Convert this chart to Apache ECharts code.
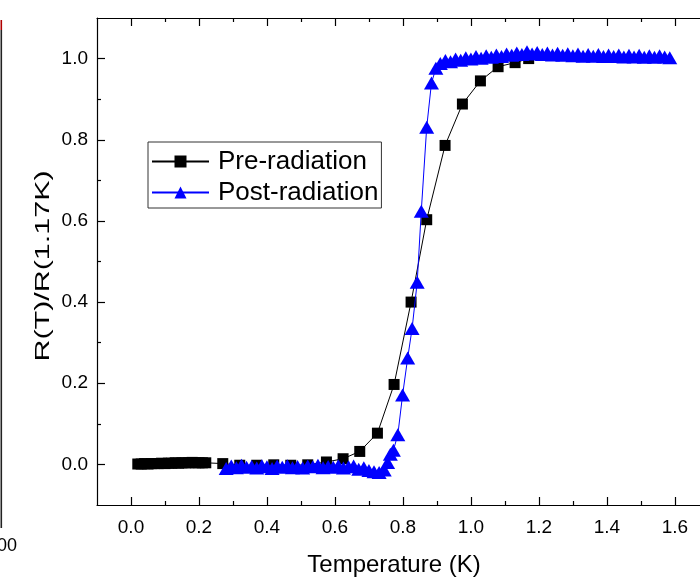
<!DOCTYPE html>
<html>
<head>
<meta charset="utf-8">
<script src="https://cdn.jsdelivr.net/npm/echarts@6/dist/echarts.min.js"></script>
<style>html,body{margin:0;padding:0;background:#fff;}#chart{width:700px;height:582px;}</style>
</head>
<body>
<div id="chart"></div>
<script>
// ---- data ----
const preT = [0.02,0.03,0.04,0.05,0.06,0.07,0.08,0.09,0.10,0.11,0.12,0.13,0.14,0.15,0.16,0.17,0.18,0.19,0.20,0.21,0.22,
  0.27,0.32,0.37,0.42,0.47,0.52,0.575,0.624,0.673,0.725,0.774,0.824,0.87,0.924,0.975,1.028,1.08,1.13,1.17];
const preR = [0.001,0.001,0.002,0.001,0.002,0.002,0.002,0.003,0.002,0.003,0.003,0.004,0.003,0.004,0.004,0.004,0.005,0.004,0.004,0.004,0.004,
  0.002,-0.002,-0.002,-0.001,-0.002,-0.001,0.006,0.014,0.032,0.077,0.197,0.400,0.603,0.786,0.888,0.945,0.980,0.990,1.000];

const postT = [0.28,0.295,0.31,0.325,0.34,0.355,0.37,0.385,0.40,0.415,0.43,0.445,0.46,0.475,0.49,0.505,0.52,0.535,0.55,0.565,
  0.58,0.595,0.61,0.625,0.64,0.655,0.67,0.685,0.70,0.715,0.73,0.745,
  0.755,0.763,0.772,0.785,0.799,0.814,0.827,0.842,0.854,0.870,0.884,0.897,
  0.91,0.925,0.94,0.955,0.97,0.985,1.0,1.015,1.03,1.045,1.06,1.075,1.09,1.105,1.12,1.135,1.15,1.165,1.18,1.195,
  1.21,1.225,1.24,1.255,1.27,1.285,1.30,1.315,1.33,1.345,1.36,1.375,1.39,1.405,1.42,1.435,1.45,1.465,1.48,1.495,
  1.51,1.525,1.54,1.555,1.57,1.585];
const postR = [-0.010,-0.004,-0.008,-0.002,-0.007,-0.005,-0.009,-0.003,-0.006,-0.010,-0.004,-0.007,-0.003,-0.008,-0.005,-0.009,-0.004,-0.006,-0.002,-0.008,
  -0.005,-0.007,-0.003,-0.009,-0.006,-0.004,-0.012,-0.008,-0.015,-0.018,-0.020,-0.014,
  0.005,0.025,0.035,0.073,0.171,0.262,0.335,0.449,0.624,0.831,0.940,0.976,
  0.988,0.995,0.992,0.999,0.996,1.002,0.999,1.005,1.001,1.007,1.003,1.009,1.005,1.011,1.008,1.014,1.010,1.017,1.011,1.015,
  1.010,1.014,1.009,1.013,1.008,1.012,1.007,1.011,1.006,1.010,1.006,1.010,1.005,1.009,1.005,1.009,1.004,1.008,1.004,1.008,
  1.003,1.007,1.003,1.007,1.004,1.002];

const seriesNames = ['Pre-radiation', 'Post-radiation'];
const xTitle = 'Temperature (K)';
const yTitle = 'R(T)/R(1.17K)';
const xMajorTicks = [0.0,0.2,0.4,0.6,0.8,1.0,1.2,1.4,1.6];
const xMinorTicks = [0.1,0.3,0.5,0.7,0.9,1.1,1.3,1.5];
const yMajorTicks = [0.0,0.2,0.4,0.6,0.8,1.0];
const yMinorTicks = [0.1,0.3,0.5,0.7,0.9];

// ---- chart ----
const FONT = "'Liberation Sans', Arial, sans-serif";
const chart = echarts.init(document.getElementById('chart'), null, {renderer: 'canvas'});
const lineStyleAxis = {color: '#000', width: 1.2};

function xAx(pos, ticks, len, showLine, showLabel, extra) {
  return Object.assign({
    type: 'value', position: pos, min: -0.1, max: 1.674,
    axisLine: {show: showLine, onZero: false, lineStyle: lineStyleAxis},
    axisTick: {show: true, inside: true, length: len, customValues: ticks, lineStyle: {color: '#000', width: 1.2}},
    axisLabel: {show: showLabel, customValues: ticks, margin: 13, fontSize: 19, fontFamily: FONT, color: '#000',
      formatter: v => Number(v).toFixed(1)},
    splitLine: {show: false}
  }, extra || {});
}
function yAx(ticks, len, showLine, showLabel) {
  return {
    type: 'value', position: 'left', min: -0.1, max: 1.1,
    axisLine: {show: showLine, onZero: false, lineStyle: lineStyleAxis},
    axisTick: {show: true, inside: true, length: len, customValues: ticks, lineStyle: {color: '#000', width: 1.2}},
    axisLabel: {show: showLabel, customValues: ticks, margin: 9, fontSize: 19, fontFamily: FONT, color: '#000',
      formatter: v => Number(v).toFixed(1)},
    splitLine: {show: false}
  };
}

const option = {
  animation: false,
  backgroundColor: '#fff',
  grid: {left: 97, right: 0, top: 18, bottom: 72, containLabel: false},
  xAxis: [
    xAx('bottom', xMajorTicks, 8, true, true, {
      name: xTitle, nameLocation: 'middle', nameGap: 48,
      nameTextStyle: {fontSize: 24, fontFamily: FONT, color: '#000', padding: [0, 9, 0, 0]}
    }),
    xAx('bottom', xMinorTicks, 4, false, false),
    xAx('top', xMajorTicks, 8, true, false),
    xAx('top', xMinorTicks, 4, false, false)
  ],
  yAxis: [
    yAx(yMajorTicks, 8, true, true),
    yAx(yMinorTicks, 4, false, false)
  ],
  legend: {
    left: 148, top: 142, orient: 'vertical',
    padding: [6, 3, 2, 3], itemGap: 4, itemWidth: 57, itemHeight: 15,
    borderColor: '#333', borderWidth: 1, backgroundColor: '#fff',
    textStyle: {fontSize: 26, fontFamily: FONT, color: '#000', lineHeight: 27, padding: [0, 0, 0, 4]},
    data: seriesNames
  },
  series: [
    {
      name: seriesNames[0], type: 'line', xAxisIndex: 0, yAxisIndex: 0,
      data: preT.map((t, i) => [t, preR[i]]),
      symbol: 'rect', symbolSize: 11,
      itemStyle: {color: '#000'}, lineStyle: {color: '#000', width: 1},
      z: 2
    },
    {
      name: seriesNames[1], type: 'line', xAxisIndex: 0, yAxisIndex: 0,
      data: postT.map((t, i) => [t, postR[i]]),
      symbol: 'triangle', symbolSize: [15, 13],
      itemStyle: {color: '#0000ff'}, lineStyle: {color: '#0000ff', width: 1},
      z: 3
    }
  ],
  graphic: [
    {type: 'text', x: 43, y: 266, rotation: Math.PI / 2, scaleX: 1.45,
     style: {text: yTitle, fontSize: 21, fontFamily: FONT, fill: '#000', align: 'center', verticalAlign: 'middle'}},
    {type: 'rect', shape: {x: 0.5, y: 20, width: 1.6, height: 10}, style: {fill: '#b00000'}},
    {type: 'rect', shape: {x: 0.5, y: 30, width: 1.6, height: 498}, style: {fill: '#222'}},
    {type: 'text', x: -3, y: 546, style: {text: '00', fontSize: 18, fontFamily: FONT, fill: '#000', align: 'left', verticalAlign: 'middle'}}
  ]
};
chart.setOption(option);
</script>
</body>
</html>
